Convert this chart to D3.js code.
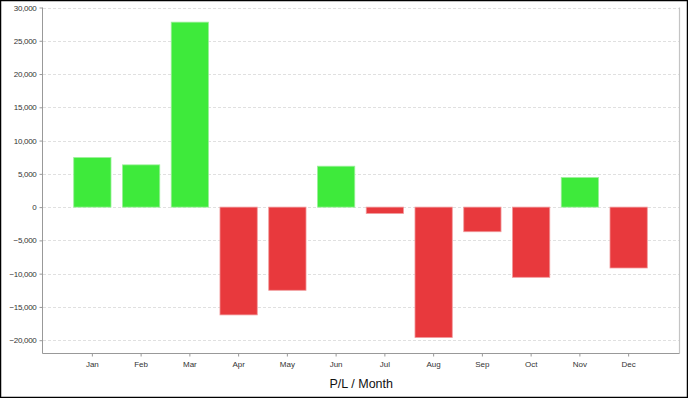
<!DOCTYPE html>
<html><head><meta charset="utf-8">
<script src="https://cdn.jsdelivr.net/npm/d3@7"></script>
<style>
html,body{margin:0;padding:0;background:#fff;}
svg{display:block;}
text{font-family:"Liberation Sans",Arial,sans-serif;}
</style></head>
<body>
<svg id="c" width="688" height="398"></svg>
<script>
const months = ["Jan","Feb","Mar","Apr","May","Jun","Jul","Aug","Sep","Oct","Nov","Dec"];
const pl = [7450, 6350, 27800, -16200, -12500, 6150, -950, -19600, -3700, -10550, 4450, -9150];
const yTicks = [-20000,-15000,-10000,-5000,0,5000,10000,15000,20000,25000,30000];
const axisTitle = "P/L / Month";

const svg = d3.select("#c");
const W = 688, H = 398;
const L = 43, R = 679.5, T = 7.5, B = 353.5;

svg.append("rect").attr("x",0.5).attr("y",0.5).attr("width",W-1).attr("height",H-1)
  .attr("fill","#fff").attr("stroke","#000").attr("stroke-width",1.5);

const x = d3.scaleBand().domain(months).range([L, R - 1.5]).paddingInner(0.235).paddingOuter(0.63);
const y = d3.scaleLinear().domain([-22000, 30000]).range([B, T]);

// gridlines
svg.append("g").selectAll("line").data(yTicks).join("line")
  .attr("x1", L).attr("x2", R)
  .attr("y1", d => Math.round(y(d))+0.5).attr("y2", d => Math.round(y(d))+0.5)
  .attr("stroke","#e0e0e0").attr("stroke-dasharray","3,2").attr("stroke-width",1);

// right border line
svg.append("line").attr("x1",R).attr("x2",R).attr("y1",T).attr("y2",B)
  .attr("stroke","#c4c4c4").attr("stroke-width",1.2);

// bars
svg.append("g").selectAll("rect").data(pl).join("rect")
  .attr("x", (d,i) => x(months[i]))
  .attr("width", x.bandwidth())
  .attr("y", d => y(Math.max(0,d)))
  .attr("height", d => Math.abs(y(d) - y(0)))
  .attr("fill", d => d >= 0 ? "#3eea3b" : "#e8393d")
  .attr("stroke", d => d >= 0 ? "#9cf09a" : "#f19a9c")
  .attr("stroke-width", 0.8);

// y axis
const yAxis = d3.axisLeft(y).tickValues(yTicks).tickSize(3).tickPadding(3)
  .tickFormat(d3.format(","));
const gy = svg.append("g").attr("transform",`translate(${L-0.5},0)`).call(yAxis);
gy.select(".domain").attr("stroke","#999").attr("d",`M0,${T}V${B}`);
gy.selectAll(".tick line").attr("stroke","#999");
gy.selectAll(".tick text").attr("fill","#333").style("font-size","8px").style("letter-spacing","-0.3px");

// x axis
const xAxis = d3.axisBottom(x).tickSize(3).tickPadding(5);
const gx = svg.append("g").attr("transform",`translate(0,${B})`).call(xAxis);
gx.select(".domain").attr("stroke","#999").attr("d",`M${L-0.5},0H${R}`);
gx.selectAll(".tick line").attr("stroke","#999");
gx.selectAll(".tick text").attr("fill","#333").style("font-size","8px");

svg.append("text").attr("x",(L+R)/2).attr("y",388).attr("text-anchor","middle")
  .attr("fill","#111").style("font-size","12.5px").text(axisTitle);
</script>
</body></html>
